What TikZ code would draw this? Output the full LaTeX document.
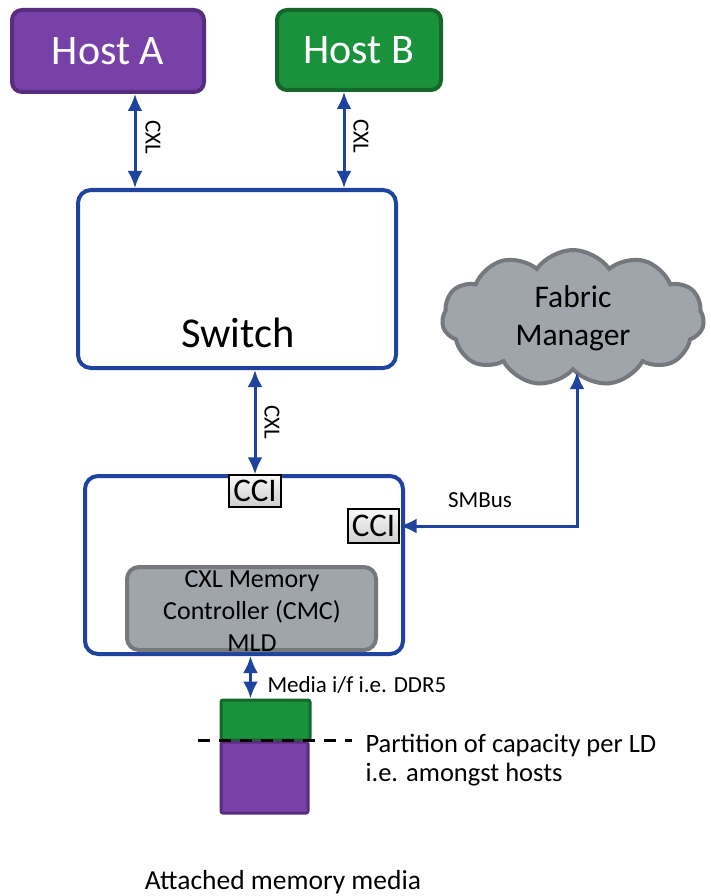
\documentclass[tikz,border=0pt]{standalone}
\usepackage{fontspec}
\setmainfont{Carlito}
\usetikzlibrary{arrows.meta,calc,positioning,shapes.symbols}

\definecolor{cxlblue}{RGB}{31,68,160}
\definecolor{hostpurple}{RGB}{120,65,168}
\definecolor{hostpurpleline}{RGB}{88,45,128}
\definecolor{hostgreen}{RGB}{26,146,60}
\definecolor{hostgreenline}{RGB}{20,102,42}
\definecolor{fmgray}{RGB}{160,164,171}
\definecolor{fmgrayline}{RGB}{117,120,124}

\begin{document}
\begin{tikzpicture}[
    x=1pt,
    y=-1pt,
    host/.style={rounded corners=10pt, line width=4pt, text=white,
        font=\fontsize{42}{50}\selectfont, inner sep=0pt},
    blok/.style={draw=cxlblue, line width=4pt, rounded corners=13pt,
        fill=white, inner sep=0pt,
        minimum width=318pt, minimum height=178pt},
    link/.style={{Latex[length=17pt,width=15pt]}-{Latex[length=17pt,width=15pt]},
        draw=cxlblue, line width=3pt},
    cci/.style={draw=black, line width=1.2pt, top color=gray!6,
        bottom color=gray!38, inner sep=0pt,
        font=\fontsize{33}{36}\selectfont},
    lbl/.style={font=\fontsize{23}{26}\selectfont},
    mem/.style={line width=3pt, rounded corners=2pt, inner sep=0pt}
]

% Ramka
\useasboundingbox (0,0) rectangle (710,896);

% Hosty
\node[host, fill=hostpurple, draw=hostpurpleline,
    minimum width=192pt, minimum height=82pt]
    (hosta) at (108,51) {Host A};

\node[host, fill=hostgreen, draw=hostgreenline,
    minimum width=164pt, minimum height=80pt]
    (hostb) at (359,50) {Host B};

% Przelacznik
\node[blok] (sw) at (237,279) {};
\node[font=\fontsize{42.5}{50}\selectfont] (swtxt) at (238,333) {Switch};

% Fabric Manager
\node[cloud, cloud puffs=11, cloud puff arc=110, aspect=2,
    draw=fmgrayline, fill=fmgray, line width=4pt,
    minimum width=262pt, minimum height=136pt,
    align=center, font=\fontsize{31.5}{38}\selectfont]
    (fm) at (573,318) {Fabric\\Manager};

% Urzadzenie
\node[blok] (dev) at (244,565) {};

\node[cci, minimum width=52pt, minimum height=32pt]
    (ccia) at (255,491) {CCI};

\node[cci, minimum width=51pt, minimum height=34pt]
    (ccib) at (373.5,526) {CCI};

\node[draw=fmgrayline, fill=fmgray, line width=4pt,
    rounded corners=12pt, inner sep=0pt,
    minimum width=249pt, minimum height=83pt]
    (cmc) at (251.5,608.5) {};
\node[align=center, font=\fontsize{26}{32}\selectfont]
    (cmctxt) at (252,611) {CXL Memory\\Controller (CMC)\\MLD};

% Pamiec
\node[mem, fill=hostgreen, draw=hostgreenline,
    minimum width=89pt, minimum height=40pt]
    (grn) at (265.5,720) {};

\node[mem, fill=hostpurple, draw=hostpurpleline,
    minimum width=87pt, minimum height=71pt]
    (prp) at (264.5,777.5) {};

% Linia podzialu
\draw[line width=3pt, dash pattern=on 12pt off 9pt]
    (198,740) -- (352,740);

% Polaczenia
\draw[link]
    ([xshift=27]hosta.south)
    --
    ([xshift=27]hosta.south |- sw.north)
    node[pos=0.46, xshift=18, rotate=-90, lbl] {CXL};

\draw[link]
    ([xshift=-15]hostb.south)
    --
    ([xshift=-15]hostb.south |- sw.north)
    node[pos=0.46, xshift=17, rotate=-90, lbl] {CXL};

\draw[link]
    (ccia.north |- sw.south)
    --
    (ccia.north)
    node[pos=0.5, xshift=17, rotate=-90, lbl] {CXL};

\draw[link]
    (ccib.east)
    -|
    ([xshift=4]fm.south);

\node[lbl] (smb) at (480,500) {SMBus};

\draw[link]
    ([xshift=-15]grn.north |- dev.south)
    --
    ([xshift=-15]grn.north);

% Opisy
\node[anchor=west, font=\fontsize{23}{26}\selectfont]
    (media) at (264,685) {Media i/f i.e. DDR5};

\node[anchor=west, align=left, font=\fontsize{26.5}{29}\selectfont]
    (part) at (362,760) {Partition of capacity per LD\\i.e. amongst hosts};

\node[font=\fontsize{27.5}{32}\selectfont]
    (att) at (283,882) {Attached memory media};

\end{tikzpicture}
\end{document}
